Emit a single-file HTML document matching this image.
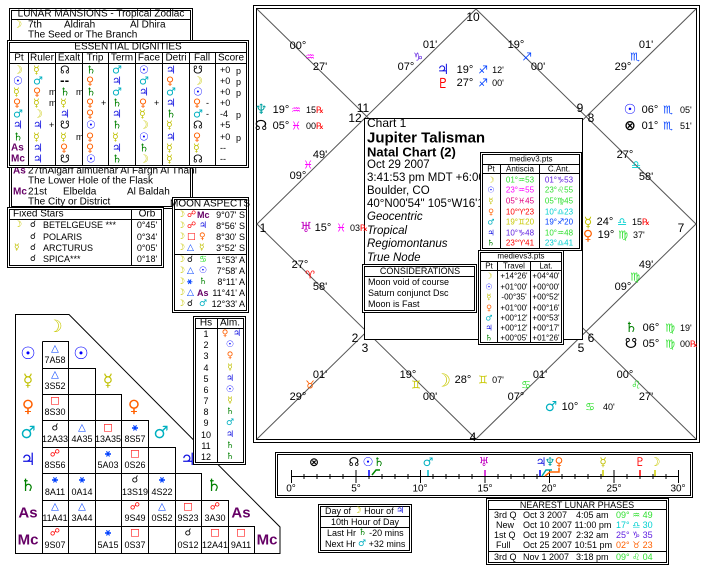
<!DOCTYPE html>
<html><head><meta charset="utf-8"><style>
body{margin:0;background:#fff;width:701px;height:570px;overflow:hidden}
svg{display:block;font-family:"Liberation Sans","DejaVu Sans",sans-serif;font-size:10px}
text{dominant-baseline:central}
.g{font-family:"DejaVu Sans",sans-serif;font-weight:bold}
.mo{fill:#c8c800}.su{fill:#0000ff}.me{fill:#c0c000}.ve{fill:#ff6000}.ma{fill:#00b0c0}.ju{fill:#1010e0}.sa{fill:#008000}.as{fill:#660066}.ur{fill:#c000c0}.ne{fill:#00a0a0}.pl{fill:#ff0000}.rd{fill:#ff0000}.gr{fill:#30e030}.mg{fill:#ff00ff}.pu{fill:#6020e0}.cy{fill:#00d0d0}.or{fill:#ff6000}.yl{fill:#c8c800}.bl{fill:#0040ff}
.m{text-anchor:middle}.e{text-anchor:end}
</style></head><body>
<svg width="701" height="570" viewBox="0 0 701 570" xmlns="http://www.w3.org/2000/svg">
<g fill="none" stroke="#000">
<rect x="253.5" y="5.5" width="446" height="437"/>
<rect x="256.5" y="8.5" width="440" height="431"/>
</g>
<g stroke="#555" stroke-width="1">
<line x1="257" y1="9" x2="696" y2="439"/>
<line x1="696" y1="9" x2="257" y2="439"/>
<polyline fill="none" points="476,9 696,224 476,439 257,224 476,9"/>
</g>
<rect x="364.5" y="118.5" width="218" height="221" fill="#fff" stroke="#000"/>
<g font-size="12">
<text x="473" y="17" class="m">10</text>
<text x="363" y="108" class="m">11</text><text x="355" y="118" class="m">12</text>
<text x="580" y="108" class="m">9</text><text x="591" y="118" class="m">8</text>
<text x="263" y="228" class="m">1</text><text x="681" y="228" class="m">7</text>
<text x="355" y="338" class="m">2</text><text x="365" y="348" class="m">3</text>
<text x="591" y="338" class="m">6</text><text x="581" y="348" class="m">5</text>
<text x="473" y="437" class="m">4</text>
</g>
<g font-size="11">
<text x="298" y="46" class="m">00°</text><text x="310" y="57" class="m g mg">♒</text><text x="320" y="67" class="m">27'</text>
<text x="430" y="45" class="m">01'</text><text x="418" y="57" class="m g pu">♑</text><text x="406" y="67" class="m">07°</text>
<text x="516" y="45" class="m">19°</text><text x="527" y="57" class="m g bl">♐</text><text x="538" y="67" class="m">00'</text>
<text x="646" y="45" class="m">01'</text><text x="635" y="57" class="m g bl">♏</text><text x="623" y="67" class="m">29°</text>
<text x="443" y="70" class="m g ju" font-size="14">♃</text><text x="465" y="70" class="m">19°</text><text x="483" y="70" class="m g bl">♐</text><text x="498" y="70" class="m" font-size="9">12'</text>
<text x="443" y="84" class="m g pl" font-size="14">♇</text><text x="465" y="83" class="m">27°</text><text x="483" y="83" class="m g bl">♐</text><text x="498" y="83" class="m" font-size="9">00'</text>
<text x="261" y="110" class="m g ne" font-size="14">♆</text><text x="281" y="110" class="m">19°</text><text x="296" y="110" class="m g mg">♒</text><text x="306" y="110" font-size="9">15<tspan class="rd">℞</tspan></text>
<text x="261" y="126" class="m g" font-size="14">☊</text><text x="281" y="126" class="m">05°</text><text x="296" y="126" class="m g mg">♓</text><text x="306" y="126" font-size="9">00<tspan class="rd">℞</tspan></text>
<text x="630" y="110" class="m g su" font-size="14">☉</text><text x="650" y="110" class="m">06°</text><text x="668" y="110" class="m g bl">♏</text><text x="680" y="110" font-size="9">05'</text>
<text x="630" y="126" class="m g" font-size="14">⊗</text><text x="650" y="126" class="m">01°</text><text x="668" y="126" class="m g bl">♏</text><text x="680" y="126" font-size="9">51'</text>
<text x="320" y="155" class="m">49'</text><text x="308" y="165" class="m g mg">♓</text><text x="298" y="176" class="m">09°</text>
<text x="625" y="155" class="m">27°</text><text x="636" y="165" class="m g cy">♎</text><text x="646" y="177" class="m">58'</text>
<text x="306" y="228" class="m g ur" font-size="14">♅</text><text x="323" y="228" class="m">15°</text><text x="341" y="228" class="m g mg">♓</text><text x="350" y="228" font-size="9">03<tspan class="rd">℞</tspan></text>
<text x="588" y="223" class="m g me" font-size="14">☿</text><text x="605" y="222" class="m">24°</text><text x="622" y="222" class="m g cy">♎</text><text x="632" y="222" font-size="9">15<tspan class="rd">℞</tspan></text>
<text x="588" y="236" class="m g ve" font-size="14">♀</text><text x="606" y="235" class="m">19°</text><text x="623" y="235" class="m g gr">♍</text><text x="633" y="235" font-size="9">37'</text>
<text x="300" y="265" class="m">27°</text><text x="310" y="275" class="m g rd">♈</text><text x="320" y="287" class="m">58'</text>
<text x="646" y="265" class="m">49'</text><text x="635" y="277" class="m g gr">♍</text><text x="623" y="287" class="m">09°</text>
<text x="631" y="328" class="m g sa" font-size="14">♄</text><text x="651" y="328" class="m">06°</text><text x="670" y="328" class="m g gr">♍</text><text x="680" y="328" font-size="9">19'</text>
<text x="631" y="344" class="m g" font-size="14">☋</text><text x="651" y="344" class="m">05°</text><text x="670" y="344" class="m g gr">♍</text><text x="680" y="344" font-size="9">00<tspan class="rd">℞</tspan></text>
<text x="320" y="375" class="m">01'</text><text x="310" y="385" class="m g or">♉</text><text x="298" y="397" class="m">29°</text>
<text x="408" y="375" class="m">19°</text><text x="416" y="385" class="m g yl">♊</text><text x="430" y="397" class="m">00'</text>
<text x="443" y="381" class="m g mo" font-size="18">☽</text><text x="463" y="380" class="m">28°</text><text x="483" y="380" class="m g yl">♊</text><text x="498" y="380" class="m" font-size="9">07'</text>
<text x="540" y="375" class="m">01'</text><text x="526" y="385" class="m g gr">♋</text><text x="516" y="397" class="m">07°</text>
<text x="625" y="375" class="m">00°</text><text x="636" y="385" class="m g gr">♌</text><text x="646" y="397" class="m">27'</text>
<text x="551" y="407" class="m g ma" font-size="14">♂</text><text x="570" y="407" class="m">10°</text><text x="590" y="407" class="m g gr">♋</text><text x="603" y="407" font-size="9">40'</text>
</g>
<text x="367" y="123" font-size="12">Chart 1</text>
<text x="367" y="138" font-size="15" font-weight="bold">Jupiter Talisman</text>
<text x="367" y="152" font-size="13" font-weight="bold">Natal Chart (2)</text>
<g font-size="11.5">
<text x="367" y="165">Oct 29 2007</text>
<text x="367" y="178">3:41:53 pm  MDT +6:00</text>
<text x="367" y="191">Boulder, CO</text>
<text x="367" y="204">40°N00'54" 105°W16'12</text>
<g font-style="italic"><text x="367" y="217">Geocentric</text><text x="367" y="231">Tropical</text><text x="367" y="244">Regiomontanus</text><text x="367" y="258">True Node</text></g>
</g>
<rect x="362.5" y="264.5" width="114" height="48" fill="#fff" stroke="#000"/>
<rect x="364.5" y="266.5" width="110" height="44" fill="none" stroke="#000"/>
<line x1="365" y1="276.5" x2="474" y2="276.5" stroke="#000"/>
<text x="420" y="271" class="m" font-size="9">CONSIDERATIONS</text>
<text x="368" y="282" font-size="9">Moon void of course</text>
<text x="368" y="293" font-size="9">Saturn conjunct Dsc</text>
<text x="368" y="304" font-size="9">Moon is Fast</text>
<rect x="480.5" y="152.5" width="101" height="98" fill="#fff" stroke="#000"/>
<rect x="482.5" y="154.5" width="97" height="94" fill="none" stroke="#000"/>
<g stroke="#000"><line x1="483" y1="164.5" x2="579" y2="164.5"/><line x1="483" y1="173.5" x2="579" y2="173.5"/><line x1="500.5" y1="165" x2="500.5" y2="248"/><line x1="539.5" y1="165" x2="539.5" y2="248"/></g>
<g font-size="8"><text x="531" y="159" class="m">mediev3.pts</text><text x="491" y="169" class="m">Pt</text><text x="520" y="169" class="m">Antiscia</text><text x="559" y="169" class="m">C.Ant.</text>
<text x="491" y="180" class="m g mo">☽</text><text x="520" y="180" class="m gr">01°♒53</text><text x="559" y="180" class="m pu">01°♑53</text>
<text x="491" y="190" class="m g su">☉</text><text x="520" y="190" class="m mg">23°♒55</text><text x="559" y="190" class="m gr">23°♌55</text>
<text x="491" y="201" class="m g me">☿</text><text x="520" y="201" class="m" fill="#e00080">05°♓45</text><text x="559" y="201" class="m gr">05°♍45</text>
<text x="491" y="212" class="m g ve">♀</text><text x="520" y="212" class="m rd">10°♈23</text><text x="559" y="212" class="m cy">10°♎23</text>
<text x="491" y="222" class="m g ma">♂</text><text x="520" y="222" class="m yl">19°♊20</text><text x="559" y="222" class="m bl">19°♐20</text>
<text x="491" y="233" class="m g ju">♃</text><text x="520" y="233" class="m pu">10°♑48</text><text x="559" y="233" class="m gr">10°♒48</text>
<text x="491" y="243" class="m g sa">♄</text><text x="520" y="243" class="m rd">23°♈41</text><text x="559" y="243" class="m cy">23°♎41</text></g>
<rect x="478.5" y="250.5" width="85" height="94" fill="#fff" stroke="#000"/>
<rect x="480.5" y="252.5" width="81" height="90" fill="none" stroke="#000"/>
<g stroke="#000"><line x1="481" y1="261.5" x2="561" y2="261.5"/><line x1="481" y1="270.5" x2="561" y2="270.5"/><line x1="497.5" y1="262" x2="497.5" y2="342"/><line x1="530.5" y1="262" x2="530.5" y2="342"/></g>
<g font-size="8"><text x="521" y="256" class="m">medievs3.pts</text><text x="489" y="266" class="m">Pt</text><text x="514" y="266" class="m">Travel</text><text x="546" y="266" class="m">Lat.</text>
<text x="489" y="276" class="m g mo">☽</text><text x="514" y="276" class="m">+14°26'</text><text x="546" y="276" class="m">+04°40'</text>
<text x="489" y="287" class="m g su">☉</text><text x="514" y="287" class="m">+01°00'</text><text x="546" y="287" class="m">+00°00'</text>
<text x="489" y="297" class="m g me">☿</text><text x="514" y="297" class="m">-00°35'</text><text x="546" y="297" class="m">+00°52'</text>
<text x="489" y="308" class="m g ve">♀</text><text x="514" y="308" class="m">+01°00'</text><text x="546" y="308" class="m">+00°16'</text>
<text x="489" y="318" class="m g ma">♂</text><text x="514" y="318" class="m">+00°12'</text><text x="546" y="318" class="m">+00°53'</text>
<text x="489" y="328" class="m g ju">♃</text><text x="514" y="328" class="m">+00°12'</text><text x="546" y="328" class="m">+00°17'</text>
<text x="489" y="338" class="m g sa">♄</text><text x="514" y="338" class="m">+00°05'</text><text x="546" y="338" class="m">+01°26'</text></g>

<rect x="9.5" y="8.5" width="183" height="200" fill="#fff" stroke="#000"/>
<rect x="11.5" y="10.5" width="179" height="196" fill="none" stroke="#000"/>
<line x1="12" y1="19.5" x2="190" y2="19.5" stroke="#000"/>
<text x="101" y="14" class="m">LUNAR MANSIONS - Tropical Zodiac</text>
<text x="13" y="25" class="g mo">☽</text><text x="28" y="25">7th</text><text x="64" y="25">Aldirah</text><text x="130" y="25">Al Dhira</text>
<text x="28" y="35">The Seed or The Branch</text>
<text x="13" y="171" class="as" font-weight="bold">As</text><text x="28" y="171">27thAlgarf almuehar Al Fargh Al Thani</text>
<text x="28" y="181">The Lower Hole of the Flask</text>
<text x="13" y="192" class="as" font-weight="bold">Mc</text><text x="28" y="192">21st</text><text x="63" y="192">Elbelda</text><text x="127" y="192">Al Baldah</text>
<text x="28" y="202">The City or District</text>
<rect x="7.5" y="40.5" width="241" height="127" fill="#fff" stroke="#000"/>
<rect x="9.5" y="42.5" width="237" height="123" fill="none" stroke="#000"/>
<g stroke="#000"><line x1="10" y1="52.5" x2="246" y2="52.5"/><line x1="10" y1="63.5" x2="246" y2="63.5"/>
<line x1="28.5" y1="53" x2="28.5" y2="165"/><line x1="55.5" y1="53" x2="55.5" y2="165"/><line x1="82.5" y1="53" x2="82.5" y2="165"/><line x1="108.5" y1="53" x2="108.5" y2="165"/><line x1="135.5" y1="53" x2="135.5" y2="165"/><line x1="162.5" y1="53" x2="162.5" y2="165"/><line x1="189.5" y1="53" x2="189.5" y2="165"/><line x1="215.5" y1="53" x2="215.5" y2="165"/></g>
<text x="128" y="47" class="m">ESSENTIAL DIGNITIES</text>
<g class="m"><text x="19" y="58">Pt</text><text x="42" y="58">Ruler</text><text x="69" y="58">Exalt</text><text x="95" y="58">Trip</text><text x="122" y="58">Term</text><text x="149" y="58">Face</text><text x="176" y="58">Detri</text><text x="202" y="58">Fall</text><text x="231" y="58">Score</text></g>
<g class="g" font-size="11">
<text x="13" y="70" class="mo">☽</text><text x="33" y="70" class="me">☿</text><text x="60" y="70">☊</text><text x="86" y="70" class="sa">♄</text><text x="112" y="70" class="ma">♂</text><text x="139" y="70" class="su">☉</text><text x="166" y="70" class="ju">♃</text><text x="193" y="70">☋</text>
<text x="13" y="81" class="su">☉</text><text x="33" y="81" class="ma">♂</text><text x="60" y="81">--</text><text x="86" y="81" class="ve">♀</text><text x="112" y="81" class="ju">♃</text><text x="139" y="81" class="ma">♂</text><text x="166" y="81" class="ve">♀</text><text x="193" y="81" class="mo">☽</text>
<text x="13" y="92" class="me">☿</text><text x="33" y="92" class="ve">♀</text><text x="60" y="92" class="sa">♄</text><text x="86" y="92" class="sa">♄</text><text x="112" y="92" class="ma">♂</text><text x="139" y="92" class="ju">♃</text><text x="166" y="92" class="ma">♂</text><text x="193" y="92" class="su">☉</text>
<text x="13" y="103" class="ve">♀</text><text x="33" y="103" class="me">☿</text><text x="60" y="103" class="me">☿</text><text x="86" y="103" class="ve">♀</text><text x="112" y="103" class="sa">♄</text><text x="139" y="103" class="ve">♀</text><text x="166" y="103" class="ju">♃</text><text x="193" y="103" class="ve">♀</text>
<text x="13" y="114" class="ma">♂</text><text x="33" y="114" class="mo">☽</text><text x="60" y="114" class="ju">♃</text><text x="86" y="114" class="ve">♀</text><text x="112" y="114" class="ju">♃</text><text x="139" y="114" class="me">☿</text><text x="166" y="114" class="sa">♄</text><text x="193" y="114" class="ma">♂</text>
<text x="13" y="125" class="ju">♃</text><text x="33" y="125" class="ju">♃</text><text x="60" y="125">☋</text><text x="86" y="125" class="su">☉</text><text x="112" y="125" class="sa">♄</text><text x="139" y="125" class="mo">☽</text><text x="166" y="125" class="me">☿</text><text x="193" y="125">☊</text>
<text x="13" y="137" class="sa">♄</text><text x="33" y="137" class="me">☿</text><text x="60" y="137" class="me">☿</text><text x="86" y="137" class="ve">♀</text><text x="112" y="137" class="me">☿</text><text x="139" y="137" class="su">☉</text><text x="166" y="137" class="ju">♃</text><text x="193" y="137" class="ve">♀</text>
<text x="33" y="148" class="ju">♃</text><text x="60" y="148" class="ve">♀</text><text x="86" y="148" class="ve">♀</text><text x="112" y="148" class="ju">♃</text><text x="139" y="148" class="sa">♄</text><text x="166" y="148" class="me">☿</text><text x="193" y="148" class="me">☿</text>
<text x="33" y="159" class="ju">♃</text><text x="60" y="159">☋</text><text x="86" y="159" class="su">☉</text><text x="112" y="159" class="sa">♄</text><text x="139" y="159" class="mo">☽</text><text x="166" y="159" class="me">☿</text><text x="193" y="159">☊</text>
</g>
<g font-weight="bold" class="as" font-size="10"><text x="11" y="148">As</text><text x="11" y="159">Mc</text></g>
<g font-size="9"><text x="49" y="92">m</text><text x="76" y="92">m</text><text x="49" y="103">m</text><text x="101" y="103">+</text><text x="154" y="103">+</text><text x="206" y="103">-</text><text x="206" y="114">-</text><text x="49" y="125">+</text><text x="76" y="137">m</text>
<text x="220" y="70">+0</text><text x="220" y="81">+0</text><text x="220" y="92">+0</text><text x="220" y="103">+0</text><text x="220" y="114">-4</text><text x="220" y="125">+5</text><text x="220" y="137">+0</text><text x="220" y="148">--</text><text x="220" y="159">--</text>
<text x="236" y="71">p</text><text x="236" y="82">p</text><text x="236" y="93">p</text><text x="236" y="115">p</text><text x="236" y="138">p</text></g>

<rect x="7.5" y="207.5" width="156" height="60" fill="#fff" stroke="#000"/>
<rect x="9.5" y="209.5" width="152" height="56" fill="none" stroke="#000"/>
<g stroke="#000"><line x1="10" y1="219.5" x2="161" y2="219.5"/><line x1="131.5" y1="210" x2="131.5" y2="265"/></g>
<text x="13" y="214">Fixed Stars</text><text x="147" y="214" class="m">Orb</text>
<g font-size="9"><text x="14" y="225" class="g mo">☽</text><text x="30" y="225" class="g">☌</text><text x="43" y="225">BETELGEUSE ***</text><text x="147" y="225" class="m">0°45'</text>
<text x="30" y="237" class="g">☌</text><text x="43" y="237">POLARIS</text><text x="147" y="237" class="m">0°34'</text>
<text x="14" y="248" class="g me">☿</text><text x="30" y="248" class="g">☌</text><text x="43" y="248">ARCTURUS</text><text x="147" y="248" class="m">0°05'</text>
<text x="30" y="259" class="g">☌</text><text x="43" y="259">SPICA***</text><text x="147" y="259" class="m">0°18'</text></g>
<rect x="172.5" y="197.5" width="76" height="115" fill="#fff" stroke="#000"/>
<rect x="174.5" y="199.5" width="72" height="111" fill="none" stroke="#000"/>
<g stroke="#000"><line x1="175" y1="209.5" x2="246" y2="209.5"/><line x1="175" y1="254.5" x2="246" y2="254.5"/></g>
<text x="210" y="204" class="m">MOON ASPECTS</text>
<g font-size="9"><g class="g">
<text x="177" y="215" class="mo">☽</text><text x="187" y="215" class="rd">☍</text>
<text x="177" y="226" class="mo">☽</text><text x="187" y="226" class="rd">☍</text><text x="199" y="226" class="ju">♃</text>
<text x="177" y="237" class="mo">☽</text><text x="187" y="237" class="rd">□</text><text x="199" y="237" class="ve">♀</text>
<text x="177" y="248" class="mo">☽</text><text x="187" y="248" class="bl">△</text><text x="199" y="248" class="me">☿</text>
<text x="177" y="260" class="mo">☽</text><text x="187" y="260">☌</text><text x="199" y="260" class="gr">♋</text>
<text x="177" y="271" class="mo">☽</text><text x="187" y="271" class="bl">△</text><text x="199" y="271" class="su">☉</text>
<text x="177" y="282" class="mo">☽</text><text x="187" y="282" class="bl">⚹</text><text x="199" y="282" class="sa">♄</text>
<text x="177" y="293" class="mo">☽</text><text x="187" y="293" class="bl">△</text>
<text x="177" y="304" class="mo">☽</text><text x="187" y="304">☌</text><text x="199" y="304" class="ma">♂</text></g>
<text x="197" y="215" class="as" font-weight="bold">Mc</text><text x="197" y="293" class="as" font-weight="bold">As</text>
<text x="245" y="215" class="e">9°07' S</text><text x="245" y="226" class="e">8°56' S</text><text x="245" y="237" class="e">8°30' S</text><text x="245" y="248" class="e">3°52' S</text>
<text x="245" y="260" class="e">1°53' A</text><text x="245" y="271" class="e">7°58' A</text><text x="245" y="282" class="e">8°11' A</text><text x="245" y="293" class="e">11°41' A</text><text x="245" y="304" class="e">12°33' A</text></g>

<polygon points="15.5,314.5 69,314.5 280,527 280,553.5 15.5,553.5" fill="#fff" stroke="#000"/>
<g fill="none" stroke="#000">
<path d="M42.5 341.5H68.5V553.5M42.5 341.5V553.5M68.5 368.5H95.5V553.5M95.5 394.5H121.5V553.5M121.5 420.5H148.5V553.5M148.5 447.5H175.5V553.5M175.5 473.5H201.5V553.5M201.5 500.5H228.5V553.5M228.5 526.5H254.5V553.5"/>
<path d="M42.5 368.5H68.5M42.5 394.5H95.5M42.5 420.5H121.5M42.5 447.5H148.5M42.5 473.5H175.5M42.5 500.5H201.5M42.5 526.5H228.5"/>
</g>
<g class="g m" font-size="17">
<text x="55" y="327" class="mo">☽</text>
<text x="28" y="354" class="su">☉</text><text x="81" y="354" class="su">☉</text>
<text x="28" y="381" class="me">☿</text><text x="108" y="381" class="me">☿</text>
<text x="28" y="407" class="ve">♀</text><text x="134" y="407" class="ve">♀</text>
<text x="28" y="433" class="ma">♂</text><text x="161" y="433" class="ma">♂</text>
<text x="28" y="460" class="ju">♃</text><text x="188" y="460" class="ju">♃</text>
<text x="28" y="486" class="sa">♄</text><text x="214" y="486" class="sa">♄</text>
</g>
<g class="as m" font-weight="bold" font-size="15"><text x="28" y="513">As</text><text x="241" y="513">As</text><text x="28" y="540">Mc</text><text x="267" y="540">Mc</text></g>
<g class="m" font-size="9">
<g class="g" font-size="10">
<text x="55" y="349" class="bl">△</text><text x="55" y="375" class="bl">△</text><text x="55" y="401" class="rd">□</text>
<text x="55" y="428">☌</text><text x="82" y="428" class="bl">△</text><text x="108" y="428" class="rd">□</text><text x="135" y="428" class="bl">⚹</text>
<text x="55" y="454" class="rd">☍</text><text x="108" y="454" class="bl">⚹</text><text x="135" y="454" class="rd">□</text>
<text x="55" y="480" class="bl">⚹</text><text x="82" y="480" class="bl">⚹</text><text x="135" y="480">☌</text><text x="162" y="480" class="bl">⚹</text>
<text x="55" y="507" class="bl">△</text><text x="82" y="507" class="bl">△</text><text x="135" y="507" class="rd">☍</text><text x="162" y="507" class="bl">△</text><text x="188" y="507" class="rd">□</text><text x="215" y="507" class="rd">☍</text>
<text x="55" y="533" class="rd">☍</text><text x="108" y="533" class="bl">⚹</text><text x="135" y="533" class="rd">□</text><text x="188" y="533">☌</text><text x="215" y="533" class="rd">□</text><text x="241" y="533" class="rd">□</text>
</g>
<text x="55" y="360">7A58</text><text x="55" y="386">3S52</text><text x="55" y="412">8S30</text>
<text x="55" y="439">12A33</text><text x="82" y="439">4A35</text><text x="108" y="439">13A35</text><text x="135" y="439">8S57</text>
<text x="55" y="465">8S56</text><text x="108" y="465">5A03</text><text x="135" y="465">0S26</text>
<text x="55" y="492">8A11</text><text x="82" y="492">0A14</text><text x="135" y="492">13S19</text><text x="162" y="492">4S22</text>
<text x="55" y="518">11A41</text><text x="82" y="518">3A44</text><text x="135" y="518">9S49</text><text x="162" y="518">0S52</text><text x="188" y="518">9S23</text><text x="215" y="518">3A30</text>
<text x="55" y="545">9S07</text><text x="108" y="545">5A15</text><text x="135" y="545">0S37</text><text x="188" y="545">0S12</text><text x="215" y="545">12A41</text><text x="241" y="545">9A11</text>
</g>
<rect x="193.5" y="316.5" width="52" height="148" fill="#fff" stroke="#000"/>
<rect x="195.5" y="318.5" width="48" height="144" fill="none" stroke="#000"/>
<g stroke="#000"><line x1="196" y1="328.5" x2="243" y2="328.5"/><line x1="217.5" y1="319" x2="217.5" y2="462"/></g>
<text x="206" y="323" class="m">Hs</text><text x="230" y="323" class="m">Alm.</text>
<g class="m" font-size="9"><text x="206" y="334">1</text><text x="206" y="345">2</text><text x="206" y="356">3</text><text x="206" y="368">4</text><text x="206" y="379">5</text><text x="206" y="390">6</text><text x="206" y="401">7</text><text x="206" y="412">8</text><text x="206" y="423">9</text><text x="206" y="435">10</text><text x="206" y="446">11</text><text x="206" y="457">12</text>
<g class="g"><text x="225" y="334" class="ve">♀</text><text x="237" y="334" class="ju">♃</text><text x="230" y="345" class="su">☉</text><text x="230" y="356" class="ve">♀</text><text x="230" y="368" class="me">☿</text><text x="230" y="379" class="ju">♃</text><text x="230" y="390" class="su">☉</text><text x="230" y="401" class="me">☿</text><text x="230" y="412" class="sa">♄</text><text x="230" y="423" class="ma">♂</text><text x="230" y="435" class="ju">♃</text><text x="230" y="446" class="sa">♄</text><text x="230" y="457" class="sa">♄</text></g></g>

<rect x="275.5" y="452.5" width="417" height="45" fill="#fff" stroke="#000"/>
<rect x="277.5" y="454.5" width="413" height="41" fill="none" stroke="#000"/>
<line x1="291" y1="476.5" x2="678" y2="476.5" stroke="#000"/>
<path stroke="#000" d="M291.5 470V483M356 470V483M420.5 470V483M485 470V483M549.5 470V483M614 470V483M678.5 470V483M304 474V479M317 474V479M330 474V479M343 474V479M369 474V479M382 474V479M395 474V479M408 474V479M433 474V479M446 474V479M459 474V479M472 474V479M498 474V479M511 474V479M524 474V479M537 474V479M562 474V479M575 474V479M588 474V479M601 474V479M627 474V479M640 474V479M653 474V479M666 474V479"/>
<g class="m" font-size="10"><text x="291" y="489">0°</text><text x="356" y="489">5°</text><text x="420" y="489">10°</text><text x="485" y="489">15°</text><text x="549" y="489">20°</text><text x="614" y="489">25°</text><text x="678" y="489">30°</text></g>
<g class="g m" font-size="12">
<text x="314" y="462">⊗</text><text x="354" y="462">☊</text><text x="368" y="462" class="su">☉</text><text x="379" y="462" class="sa">♄</text><text x="428" y="462" class="ma">♂</text><text x="484" y="462" class="ur">♅</text><text x="541" y="462" class="ju">♃</text><text x="550" y="462" class="ne">♆</text><text x="559" y="462" class="ve">♀</text><text x="603" y="462" class="me">☿</text><text x="640" y="462" class="pl">♇</text><text x="655" y="462" class="mo">☽</text>
</g>
<g stroke-width="1.5"><path d="M369 470V476" stroke="#00f"/><path d="M372 475L376 470H380" stroke="#080" fill="none"/><path d="M428 470V476" stroke="#0bc"/><path d="M485 470V476" stroke="#c0c"/><path d="M540 470V476" stroke="#00f"/><path d="M542 476L546 470H552" stroke="#0aa" fill="none"/><path d="M545 476L550 472H559V468" stroke="#f60" fill="none"/><path d="M603 470V476" stroke="#cc0"/><path d="M640 470V476" stroke="#f00"/><path d="M655 470V476" stroke="#cc0"/></g>

<rect x="318.5" y="504.5" width="93" height="48" fill="#fff" stroke="#000"/>
<rect x="320.5" y="506.5" width="89" height="44" fill="none" stroke="#000"/>
<g stroke="#000"><line x1="321" y1="516.5" x2="409" y2="516.5"/><line x1="321" y1="527.5" x2="409" y2="527.5"/></g>
<g font-size="9"><text x="325" y="511">Day of <tspan class="g mo">☽</tspan> Hour of <tspan class="g ju">♃</tspan></text>
<text x="365" y="522" class="m">10th Hour of Day</text>
<text x="327" y="533">Last Hr <tspan class="g sa">♄</tspan>  -20 mins</text>
<text x="325" y="544">Next Hr <tspan class="g ma">♂</tspan>  +32 mins</text></g>

<rect x="486.5" y="498.5" width="182" height="66" fill="#fff" stroke="#000"/>
<rect x="488.5" y="500.5" width="178" height="62" fill="none" stroke="#000"/>
<g stroke="#000"><line x1="489" y1="509.5" x2="666" y2="509.5"/><line x1="489" y1="551.5" x2="666" y2="551.5"/></g>
<g font-size="9"><text x="577" y="505" class="m">NEAREST LUNAR PHASES</text>
<text x="494" y="515">3rd Q</text><text x="523" y="515">Oct 3 2007</text><text x="576" y="515">4:05 am</text><text x="616" y="515" class="gr">09° ♒ 49</text>
<text x="496" y="525">New</text><text x="523" y="525">Oct 10 2007 11:00 pm</text><text x="616" y="525" class="cy">17° ♎ 30</text>
<text x="494" y="535">1st Q</text><text x="523" y="535">Oct 19 2007</text><text x="576" y="535">2:32 am</text><text x="616" y="535" class="pu">25° ♑ 35</text>
<text x="496" y="545">Full</text><text x="523" y="545">Oct 25 2007 10:51 pm</text><text x="616" y="545" class="or">02° ♉ 23</text>
<text x="494" y="557">3rd Q</text><text x="523" y="557">Nov 1 2007</text><text x="576" y="557">3:18 pm</text><text x="616" y="557" class="gr">09° ♌ 04</text></g>
</svg>
</body></html>
